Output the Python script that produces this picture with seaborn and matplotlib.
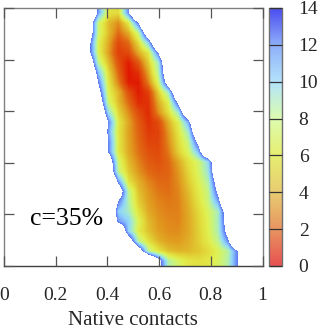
import numpy as np
import matplotlib
matplotlib.use("Agg")
import matplotlib.pyplot as plt
from matplotlib.colors import LinearSegmentedColormap
import seaborn as sns

# free energy, 26 x 26 grid, only columns 8..24 typed
# anything above 14 is outside the populated region (white)
first_col = 8
n_grid = 26
empty = 30
rows = [
    [23, 12.6, 6.3, 6, 13.3, 24],
    [18, 7.8, 5, 3.8, 6.6, 14.2, 25],
    [18, 7.8, 5, 3, 4.6, 8.2, 18.5],
    [15.6, 7, 4.5, 2, 3, 6, 11, 22],
    [15.6, 7, 4.2, 1.6, 2, 4.5, 6.6, 14, 25],
    [19, 8.4, 5, 2.2, 0.6, 2.5, 5.5, 9.6, 20.6],
    [22, 11.5, 6, 2.8, 0.4, 1.2, 4.5, 8.8, 19.5],
    [24, 13.6, 6.5, 3.5, 0.6, 0.5, 3.5, 7.5, 17, 28],
    [27, 15.8, 7, 4.8, 2.2, 0.6, 1.6, 5.5, 9.5, 20.6],
    [30, 18, 7.8, 5, 3, 1, 1.2, 4.5, 7, 15, 26],
    [30, 21, 10.2, 5.8, 3.8, 2, 1, 3.8, 6.2, 9.8, 20.6],
    [30, 24.5, 13.6, 6.6, 4.4, 2.6, 1.2, 2, 4.6, 7, 12.2, 23],
    [30, 23.5, 12.6, 6.4, 4.3, 2.8, 1.5, 1.7, 4, 6.4, 9.6, 19.5],
    [30, 24.5, 13.6, 6.6, 4.4, 3, 1.8, 1.8, 3.7, 6, 8.2, 15, 26],
    [30, 24.5, 13.6, 6.6, 4.5, 3.2, 2.2, 2, 3.3, 5.6, 7.4, 11.6, 21.7],
    [30, 29, 18, 7.8, 5, 3.6, 2.6, 2.2, 2.9, 4.4, 6.2, 7.6, 10.6, 20.6],
    [30, 30, 19, 8.4, 5.5, 4, 3, 2.6, 2.8, 4, 5.8, 7.4, 10, 19.5],
    [30, 30, 23.5, 12.8, 6.4, 4.7, 3.6, 3, 3, 3.8, 5.4, 7, 9, 17, 28],
    [30, 30, 28, 18, 8.6, 5.2, 4, 3.3, 3.1, 3.6, 5, 6.6, 8.2, 15, 26],
    [30, 30, 24.5, 13.7, 9, 5.6, 4.2, 3.6, 3.3, 3.5, 4.7, 6.3, 8, 12.4, 23],
    [30, 30, 21, 11, 9.5, 6.3, 4.5, 3.8, 3.5, 3.5, 4.5, 5.9, 7.4, 9.4, 18],
    [30, 30, 23, 12.8, 11, 7.2, 5, 4, 3.7, 3.6, 4.4, 5.7, 7.1, 9.4, 17, 28],
    [30, 30, 30, 21, 11, 6.8, 5.2, 4.2, 3.8, 3.8, 4.4, 5.6, 7, 9.2, 16, 27],
    [30, 30, 30, 29, 18, 8.6, 6.2, 4.8, 4.2, 4.1, 4.6, 5.5, 6.7, 8.4, 13.2, 24],
    [30, 30, 30, 30, 29, 18, 8.6, 6.4, 5.2, 4.8, 4.9, 5.3, 6, 7.2, 8.8, 14, 25],
    [30, 30, 30, 30, 30, 30, 24, 16, 9, 7.5, 6.5, 6.2, 6.5, 7.4, 9, 14, 25],
]
x_ticks = [0, 0.2, 0.4, 0.6, 0.8, 1]
x_labels = ["0", "0.2", "0.4", "0.6", "0.8", "1"]
y_ticks = [0, 0.2, 0.4, 0.6, 0.8, 1]
cb_ticks = [0, 2, 4, 6, 8, 10, 12, 14]

sns.set_style("white")
plt.rcParams["font.family"] = ["Liberation Serif", "DejaVu Serif"]

grid = np.full((n_grid, n_grid), float(empty))
for j, r in enumerate(rows):
    grid[j, first_col:first_col + len(r)] = r

# strong palette for the map, the colour box in the original is paler
map_cmap = LinearSegmentedColormap.from_list("map", [
    (0 / 14, "#e00a00"), (1.5 / 14, "#e03c08"), (3 / 14, "#e06a14"), (4 / 14, "#e0981e"),
    (5 / 14, "#e0bc2c"), (6 / 14, "#e2dc3c"), (7 / 14, "#e0f050"), (8 / 14, "#ccf478"),
    (9 / 14, "#b4f0a8"), (10 / 14, "#a0e4dc"), (11 / 14, "#90d4fa"), (12.5 / 14, "#7aa4fa"),
    (14 / 14, "#5a78f4")])
map_cmap.set_over("white")
box_cmap = LinearSegmentedColormap.from_list("box", [
    (0 / 14, "#e85050"), (2 / 14, "#e89560"), (4 / 14, "#e8cc70"), (6 / 14, "#e6ee70"),
    (8 / 14, "#dcfcae"), (10 / 14, "#b4e4fa"), (12 / 14, "#8eaefa"), (14 / 14, "#4a4cf0")])

W, H = 321, 335
fig = plt.figure(figsize=(W / 100, H / 100), dpi=100)
ax = fig.add_axes([4 / W, 1 - 266 / H, 258.5 / W, 258 / H])
cax = fig.add_axes([269 / W, 1 - 266 / H, 13 / W, 258 / H])

sns.heatmap(grid, ax=ax, cbar_ax=cax, cmap=box_cmap, vmin=0, vmax=14,
            xticklabels=False, yticklabels=False, cbar_kws={"ticks": cb_ticks})
# same values again, smoothed, on top of the heatmap cells
ax.imshow(grid, cmap=map_cmap, vmin=0, vmax=14, extent=(0, n_grid, n_grid, 0),
          aspect="auto", interpolation="bilinear", interpolation_stage="data", zorder=1.2)
ax.set_xlim(0, n_grid)
ax.set_ylim(n_grid, 0)
ax.set_axisbelow(False)

for s in ax.spines.values():
    s.set_visible(True)
    s.set_color("#808080")
    s.set_linewidth(1)
ax.spines["bottom"].set_color("#404040")

ax.set_xticks([t * n_grid for t in x_ticks])
ax.set_xticklabels(x_labels, rotation=0)
ax.set_yticks([t * n_grid for t in y_ticks])
ax.set_yticklabels([])
ax.tick_params(axis="both", which="major", direction="in", length=7.2, width=0.9, color="#555555",
               top=True, right=True, bottom=True, left=True, labelsize=14, pad=15)
ax.set_xlabel("Native contacts", fontsize=15, labelpad=5)
fig.text(30 / W, 1 - 225 / H, "c=35%", fontsize=18.5, color="black")

cb = ax.collections[0].colorbar
cb.outline.set_visible(True)
cb.outline.set_linewidth(1)
cb.outline.set_edgecolor("#707070")
cb.ax.set_axisbelow(False)
cb.ax.tick_params(direction="in", length=9.4, width=0.9, color="#333333", labelsize=14, pad=12)

fig.savefig("out.png", dpi=100)
